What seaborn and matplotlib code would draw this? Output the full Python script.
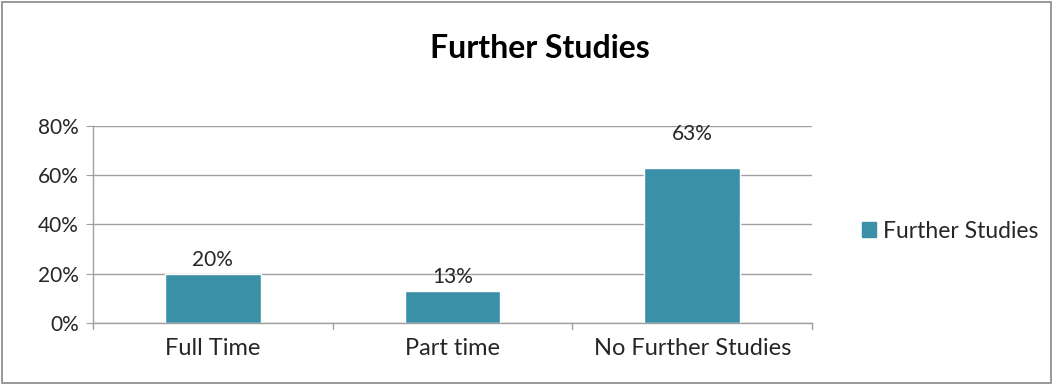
import matplotlib
matplotlib.use("Agg")
import matplotlib.pyplot as plt
import matplotlib.patches as mpatches
import pandas as pd
import seaborn as sns

categories = ["Full Time", "Part time", "No Further Studies"]
values = [20, 13, 63]
series_name = "Further Studies"
label_texts = ["20%", "13%", "63%"]

sns.set_style("white")
plt.rcParams['font.family'] = ['Lato', 'DejaVu Sans']

df = pd.DataFrame({"category": categories, "value": values, "series": series_name})

fig = plt.figure(figsize=(10.56, 3.85), dpi=100)
ax = fig.add_axes([0.088, 0.161, 0.681, 0.512])

bar_color = "#3a91a7"
sns.barplot(data=df, x="category", y="value", hue="series", palette=[bar_color],
            width=0.4, ax=ax, legend=False, saturation=1)

ax.set_ylim(0, 80)
ax.set_xlim(-0.5, len(categories) - 0.5)
ax.set_yticks([0, 20, 40, 60, 80])
ax.set_yticklabels(["0%", "20%", "40%", "60%", "80%"], fontsize=15)
ax.set_xticks(range(len(categories)))
ax.set_xticklabels(categories, fontsize=17)
ax.set_xlabel("")
ax.set_ylabel("")

ax.yaxis.grid(True, color="#a0a0a0", linewidth=1)
ax.set_axisbelow(True)
for s in ["top", "right"]:
    ax.spines[s].set_visible(False)
for s in ["left", "bottom"]:
    ax.spines[s].set_color("#a0a0a0")
    ax.spines[s].set_linewidth(1)

# y ticks outward, x ticks at category boundaries
ax.tick_params(axis="y", length=5, color="#a0a0a0", pad=5, left=True)
ax.tick_params(axis="x", length=0, pad=11)
for b in [-0.5, 0.5, 1.5, 2.5]:
    ax.plot([b, b], [0, -2.5], color="#a0a0a0", lw=1, clip_on=False)

# data labels
offsets = [3, 3, 17]
for i, (v, t) in enumerate(zip(values, label_texts)):
    ax.annotate(t, (i, v), xytext=(0, offsets[i]), textcoords="offset points",
                ha="center", va="bottom", fontsize=15)

fig.text(0.511, 0.875, "Further Studies", ha="center", va="center",
         fontsize=23, fontweight="bold", color="black")

handle = mpatches.Patch(color=bar_color, label=series_name)
fig.legend(handles=[handle], loc="center left", bbox_to_anchor=(0.797, 0.40),
           frameon=False, fontsize=16.5, handlelength=0.6, handleheight=0.6,
           handletextpad=0.3)

border = mpatches.Rectangle((0.002, 0.004), 0.993, 0.99, transform=fig.transFigure,
                            fill=False, edgecolor="#888888", linewidth=1.2)
fig.patches.append(border)

fig.savefig("out.png", dpi=100)
